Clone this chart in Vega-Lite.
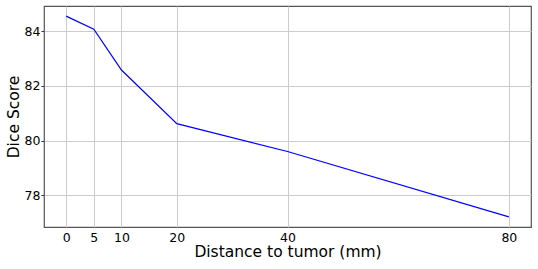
{
  "$schema": "https://vega.github.io/schema/vega-lite/v6.json",
  "autosize": "none",
  "padding": {"left": 44, "top": 6, "right": 7, "bottom": 42},
  "width": 487,
  "height": 221,
  "background": "white",
  "config": {
    "view": {"stroke": "#555555", "strokeWidth": 1.2},
    "font": "DejaVu Sans"
  },
  "data": {
    "values": [
      {"distance": 0, "dice": 84.55},
      {"distance": 5, "dice": 84.07},
      {"distance": 10, "dice": 82.58},
      {"distance": 20, "dice": 80.62},
      {"distance": 40, "dice": 79.6},
      {"distance": 80, "dice": 77.21}
    ]
  },
  "mark": {"type": "line", "color": "#0000ff", "strokeWidth": 1.2},
  "encoding": {
    "x": {
      "field": "distance",
      "type": "quantitative",
      "scale": {"domain": [-4, 84], "nice": false, "zero": false},
      "axis": {
        "values": [0, 5, 10, 20, 40, 80],
        "title": "Distance to tumor (mm)",
        "titleFontSize": 15.5,
        "titleFontWeight": "normal",
        "titleColor": "black",
        "titlePadding": 1,
        "labelFontSize": 12.5,
        "labelColor": "black",
        "labelPadding": 4,
        "ticks": false,
        "domain": false,
        "grid": true,
        "gridColor": "#cccccc",
        "labelFlush": false
      }
    },
    "y": {
      "field": "dice",
      "type": "quantitative",
      "scale": {"domain": [76.84, 84.92], "nice": false, "zero": false},
      "axis": {
        "values": [78, 80, 82, 84],
        "title": "Dice Score",
        "titleFontSize": 15.5,
        "titleFontWeight": "normal",
        "titleColor": "black",
        "titlePadding": 3,
        "labelFontSize": 12.5,
        "labelColor": "black",
        "labelPadding": 1,
        "tickSize": 3,
        "tickColor": "#333333",
        "domain": false,
        "grid": true,
        "gridColor": "#cccccc",
        "labelFlush": false
      }
    }
  }
}
